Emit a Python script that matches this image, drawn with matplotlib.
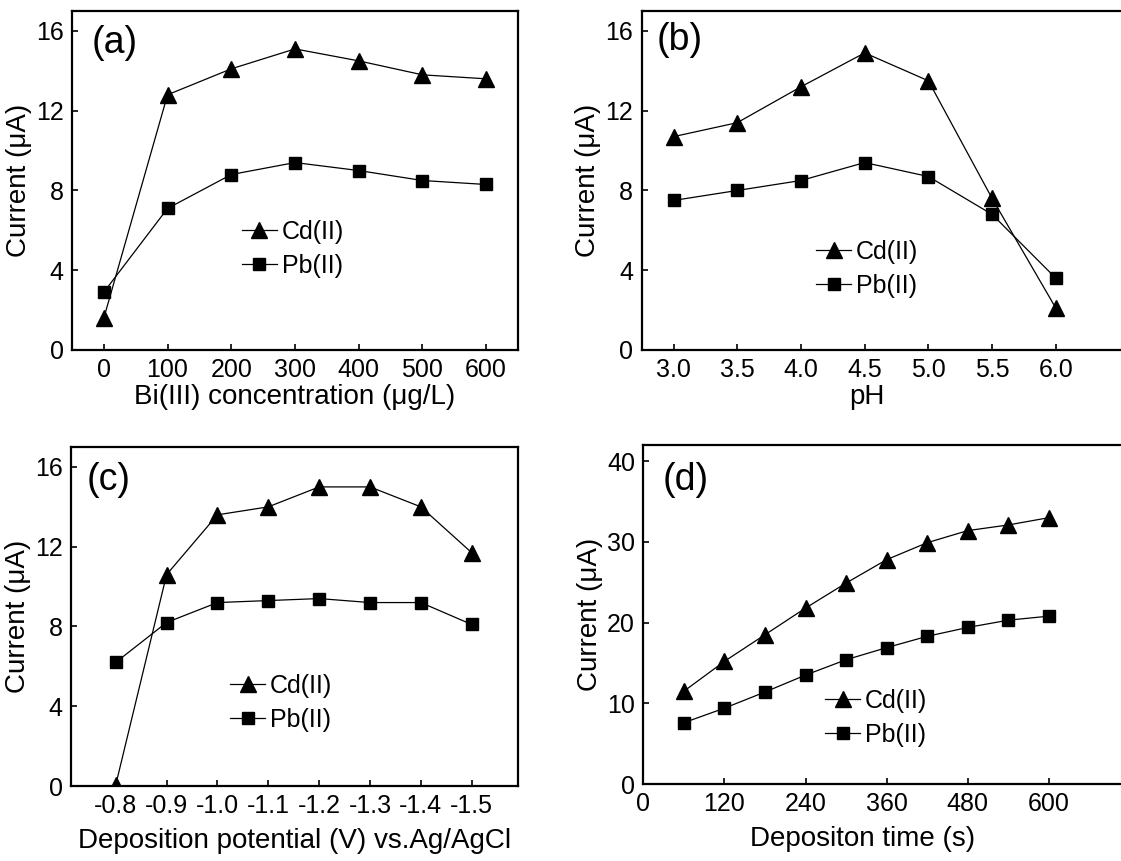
import matplotlib

matplotlib.use("Agg")
import matplotlib.pyplot as plt

plt.rcParams["font.family"] = ["Liberation Sans", "DejaVu Sans"]
plt.rcParams["axes.unicode_minus"] = False

# (a) Bi(III) concentration
bi_conc = [0, 100, 200, 300, 400, 500, 600]
bi_cd = [1.6, 12.8, 14.1, 15.1, 14.5, 13.8, 13.6]
bi_pb = [2.9, 7.1, 8.8, 9.4, 9.0, 8.5, 8.3]

# (b) pH
ph_vals = [3.0, 3.5, 4.0, 4.5, 5.0, 5.5, 6.0]
ph_cd = [10.7, 11.4, 13.2, 14.9, 13.5, 7.6, 2.1]
ph_pb = [7.5, 8.0, 8.5, 9.4, 8.7, 6.8, 3.6]

# (c) deposition potential
pot_vals = [-0.8, -0.9, -1.0, -1.1, -1.2, -1.3, -1.4, -1.5]
pot_cd = [0.05, 10.6, 13.6, 14.0, 15.0, 15.0, 14.0, 11.7]
pot_pb = [6.2, 8.2, 9.2, 9.3, 9.4, 9.2, 9.2, 8.1]

# (d) deposition time
time_vals = [60, 120, 180, 240, 300, 360, 420, 480, 540, 600]
time_cd = [11.5, 15.2, 18.5, 21.8, 24.9, 27.8, 29.9, 31.4, 32.1, 33.0]
time_pb = [7.6, 9.4, 11.4, 13.5, 15.4, 16.9, 18.3, 19.4, 20.3, 20.8]

fig = plt.figure(figsize=(11.21, 8.61), dpi=100)

ax_a = fig.add_axes([0.0642, 0.5935, 0.3979, 0.3937])
ax_b = fig.add_axes([0.5724, 0.5935, 0.4445, 0.3937])
ax_c = fig.add_axes([0.0633, 0.0871, 0.3988, 0.3937])
ax_d = fig.add_axes([0.5739, 0.0894, 0.4431, 0.3937])

# axis, x, Cd, Pb, tag, xlabel, legend anchor, xlabel pad, xlabel x position
panels = [
    (ax_a, bi_conc, bi_cd, bi_pb, "(a)", "Bi(III) concentration (\u03bcg/L)", (0.381, 0.298), 1, 0.5),
    (ax_b, ph_vals, ph_cd, ph_pb, "(b)", "pH", (0.35, 0.24), 1, 0.452),
    (ax_c, pot_vals, pot_cd, pot_pb, "(c)", "Deposition potential (V) vs.Ag/AgCl", (0.356, 0.245), 7, 0.5),
    (ax_d, time_vals, time_cd, time_pb, "(d)", "Depositon time (s)", (0.366, 0.195), 7, 0.442),
]

label_pos = {"(a)": (0.045, 0.905), "(b)": (0.031, 0.914), "(c)": (0.036, 0.903), "(d)": (0.039, 0.897)}

for ax, xs, cd, pb, tag, xlabel, leg_anchor, xpad, xlab_x in panels:
    ax.plot(xs, cd, color="black", lw=0.9, marker="^", ms=11, label="Cd(II)")
    ax.plot(xs, pb, color="black", lw=0.9, marker="s", ms=8.5, label="Pb(II)")
    ax.set_xlabel(xlabel, fontsize=20, labelpad=xpad, x=xlab_x, ha="center")
    ax.set_ylabel("Current (\u03bcA)", fontsize=20, labelpad=3)
    ax.tick_params(direction="in", length=4, width=1.2, labelsize=18, pad=6)
    for spine in ax.spines.values():
        spine.set_linewidth(1.6)
    ax.text(*label_pos[tag], tag, transform=ax.transAxes, fontsize=27, ha="left", va="center")
    ax.legend(
        loc="center left",
        bbox_to_anchor=leg_anchor,
        frameon=False,
        fontsize=18,
        borderpad=0,
        borderaxespad=0,
        handlelength=1.4,
        handletextpad=0.2,
        labelspacing=0.4,
    )

ax_a.set_xlim(-50, 650)
ax_a.set_ylim(0, 17)
ax_a.set_xticks(bi_conc)
ax_a.set_yticks([0, 4, 8, 12, 16])

ax_b.set_xlim(2.75, 6.66)
ax_b.set_ylim(0, 17)
ax_b.set_xticks(ph_vals)
ax_b.set_xticklabels([f"{v:.1f}" for v in ph_vals])
ax_b.set_yticks([0, 4, 8, 12, 16])

ax_c.set_xlim(-0.712, -1.591)
ax_c.set_ylim(0, 17)
ax_c.set_xticks(pot_vals)
ax_c.set_xticklabels([f"{v:.1f}" for v in pot_vals])
ax_c.set_yticks([0, 4, 8, 12, 16])

ax_d.set_xlim(0, 735)
ax_d.set_ylim(0, 42)
ax_d.set_xticks([0, 120, 240, 360, 480, 600])
ax_d.set_yticks([0, 10, 20, 30, 40])

fig.savefig("out.png", dpi=100)
plt.close(fig)
